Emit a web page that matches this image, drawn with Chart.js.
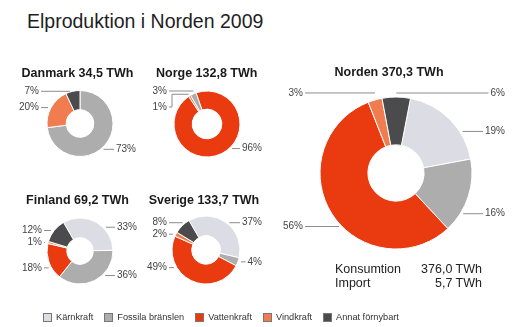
<!DOCTYPE html>
<html lang="sv">
<head>
<meta charset="utf-8">
<title>Elproduktion i Norden 2009</title>
<script src="https://cdn.jsdelivr.net/npm/chart.js@4.4.1/dist/chart.umd.min.js"></script>
<style>
  html, body { margin: 0; padding: 0; background: #fff; }
  #sida {
    position: relative; width: 525px; height: 327px; overflow: hidden;
    font-family: "Liberation Sans", Arial, sans-serif; color: #222;
  }
  #sida canvas { position: absolute; left: 0; top: 0; }
  h1 {
    position: absolute; left: 27px; top: 8.5px; margin: 0;
    font-size: 19.5px; font-weight: normal; line-height: 24px; color: #1e1e1e;
  }
  #konsumtion {
    position: absolute; left: 335px; top: 262px; width: 147px;
    font-size: 12.5px; line-height: 14px; color: #222;
  }
  #konsumtion div { display: flex; justify-content: space-between; }
  #forklaring {
    position: absolute; left: 43px; top: 311px; display: flex;
    font-size: 9.2px; line-height: 12px; color: #333;
  }
  #forklaring span.post { display: flex; align-items: center; margin-right: 11px; }
  #forklaring i { display: inline-block; width: 7px; height: 7px; margin-right: 4px; border: 1px solid #777; }
</style>
</head>
<body>
<div id="sida">
  <h1>Elproduktion i Norden 2009</h1>
  <canvas id="c-danmark" width="525" height="327"></canvas>
  <canvas id="c-norge" width="525" height="327"></canvas>
  <canvas id="c-finland" width="525" height="327"></canvas>
  <canvas id="c-sverige" width="525" height="327"></canvas>
  <canvas id="c-norden" width="525" height="327"></canvas>
  <div id="konsumtion"></div>
  <div id="forklaring"></div>
</div>
<script>
// Kraftslag och andelar (%) per land
const kategorier = ['Kärnkraft', 'Fossila bränslen', 'Vattenkraft', 'Vindkraft', 'Annat förnybart'];
const farger = ['#dcdce4', '#adadad', '#ea3a10', '#f17c50', '#4b4b4d'];

const lander = ['Danmark', 'Norge', 'Finland', 'Sverige', 'Norden'];
const totalTWh = ['34,5', '132,8', '69,2', '133,7', '370,3'];

const danmark = [0, 73, 0, 20, 7];
const norge = [0, 3, 96, 1, 0];
const finland = [33, 36, 18, 1, 12];
const sverige = [37, 4, 49, 2, 8];
const norden = [19, 16, 56, 3, 6];

const konsumtionRader = ['Konsumtion', 'Import'];
const konsumtionTWh = ['376,0', '5,7'];

// placering av ringarna på sidan (mitt, radie, vridning, etikettkolumner)
const ringar = [
  { id: 'c-danmark', data: danmark, cx: 80, cy: 123.5, r: 33, rot: 0, cutout: '42%',
    rubrikX: 77.5, rubrikY: 74, vX: 41, hX: 56, flytt: [0, 4, 0, 0, 0] },
  { id: 'c-norge', data: norge, cx: 207, cy: 124, r: 33, rot: -30, cutout: '45%',
    rubrikX: 206.7, rubrikY: 74, vX: 40, hX: 55, flytt: [0, -3, -5, 11, 0] },
  { id: 'c-finland', data: finland, cx: 80, cy: 251, r: 33, rot: -30, cutout: '40%',
    rubrikX: 77.5, rubrikY: 201, vX: 38, hX: 57, flytt: [5, -5, 6, 0, 0] },
  { id: 'c-sverige', data: sverige, cx: 206, cy: 250, r: 34, rot: -30, cutout: '42%',
    rubrikX: 204, rubrikY: 201, vX: 39, hX: 56, flytt: [0, 0, -13, 0, -3] },
  { id: 'c-norden', data: norden, cx: 396, cy: 173, r: 76, rot: 11, cutout: '37%',
    rubrikX: 389, rubrikY: 73, vX: 93, hX: 109, flytt: [12, 17, 13, -7, -4] }
];

const W = 525, H = 327, kant = 1;

function inomBage(a, start, slut) {
  let t = a;
  while (t < start) t += Math.PI * 2;
  while (t > start + Math.PI * 2) t -= Math.PI * 2;
  return t <= slut;
}

// rubrik + procentetiketter med hänvisningslinjer
const etiketter = {
  id: 'etiketter',
  afterDraw(chart, args, opts) {
    const ctx = chart.ctx;
    const arcs = chart.getDatasetMeta(0).data;
    const values = chart.data.datasets[0].data;
    ctx.save();
    ctx.font = 'bold 12.5px "Liberation Sans", Arial, sans-serif';
    ctx.fillStyle = '#1a1a1a';
    ctx.textAlign = 'center';
    ctx.textBaseline = 'middle';
    ctx.fillText(opts.rubrik, opts.rubrikX, opts.rubrikY);

    ctx.font = '10px "Liberation Sans", Arial, sans-serif';
    const poster = [];
    arcs.forEach((arc, i) => {
      if (!values[i]) return;
      const p = arc.getProps(['x', 'y', 'startAngle', 'endAngle', 'outerRadius'], true);
      const mid = (p.startAngle + p.endAngle) / 2;
      poster.push({
        x: p.x, y: p.y, start: p.startAngle, slut: p.endAngle, r: p.outerRadius, mid,
        hoger: Math.cos(mid) >= 0,
        ly: p.y + Math.sin(mid) * p.outerRadius + (opts.flytt[i] || 0),
        text: values[i] + '%'
      });
    });
    [true, false].forEach(sida => {
      const s = poster.filter(d => d.hoger === sida).sort((a, b) => a.ly - b.ly);
      for (let k = 1; k < s.length; k++) {
        if (s[k].ly - s[k - 1].ly < 11) s[k].ly = s[k - 1].ly + 11;
      }
    });

    poster.forEach(d => {
      const textX = d.hoger ? d.x + opts.hX : d.x - opts.vX;
      const w = ctx.measureText(d.text).width;
      ctx.textAlign = 'right';
      ctx.fillStyle = '#444';
      ctx.fillText(d.text, textX, d.ly);

      const x0 = d.hoger ? textX - w - 2 : textX + 2;
      const dy = d.ly - d.y;
      let pts;
      if (Math.abs(dy) >= d.r) {
        pts = [[x0, d.ly], [d.x + Math.cos(d.mid) * d.r, d.ly]];
      } else {
        const dx = Math.sqrt(d.r * d.r - dy * dy);
        const ex = d.hoger ? d.x + dx : d.x - dx;
        if (inomBage(Math.atan2(dy, ex - d.x), d.start, d.slut)) {
          pts = [[x0, d.ly], [ex + (d.hoger ? 3 : -3), d.ly]];
        } else {
          const ax = d.x + Math.cos(d.mid) * (d.r + 2);
          const ay = d.y + Math.sin(d.mid) * (d.r + 2);
          const kx = x0 + (d.hoger ? -3 : 3);
          pts = [[x0, d.ly], [kx, d.ly], [kx, ay], [ax, ay]];
        }
      }
      ctx.strokeStyle = '#8c8c8c';
      ctx.lineWidth = 1;
      ctx.beginPath();
      pts.forEach((pt, k) => k ? ctx.lineTo(pt[0], pt[1]) : ctx.moveTo(pt[0], pt[1]));
      ctx.stroke();
    });
    ctx.restore();
  }
};

ringar.forEach((ring, n) => {
  const halv = ring.r + kant / 2;
  new Chart(document.getElementById(ring.id), {
    type: 'doughnut',
    data: {
      labels: kategorier,
      datasets: [{
        data: ring.data,
        backgroundColor: farger,
        borderColor: '#ffffff',
        borderWidth: kant,
        hoverBorderWidth: kant,
        offset: 0,
        hoverOffset: 0
      }]
    },
    options: {
      responsive: false,
      animation: false,
      events: [],
      rotation: ring.rot,
      cutout: ring.cutout,
      layout: {
        padding: {
          left: ring.cx - halv,
          top: ring.cy - halv,
          right: W - (ring.cx + halv),
          bottom: H - (ring.cy + halv)
        }
      },
      plugins: {
        legend: { display: false },
        tooltip: { enabled: false },
        etiketter: {
          rubrik: lander[n] + ' ' + totalTWh[n] + ' TWh',
          rubrikX: ring.rubrikX, rubrikY: ring.rubrikY,
          vX: ring.vX, hX: ring.hX, flytt: ring.flytt
        }
      }
    },
    plugins: [etiketter]
  });
});

// konsumtion och import för hela Norden
const konsumtion = document.getElementById('konsumtion');
konsumtionRader.forEach((rad, i) => {
  const div = document.createElement('div');
  div.innerHTML = '<span>' + rad + '</span><span>' + konsumtionTWh[i] + ' TWh</span>';
  konsumtion.appendChild(div);
});

// förklaring
const forklaring = document.getElementById('forklaring');
kategorier.forEach((namn, i) => {
  const post = document.createElement('span');
  post.className = 'post';
  post.innerHTML = '<i style="background:' + farger[i] + '"></i>' + namn;
  forklaring.appendChild(post);
});
</script>
</body>
</html>
